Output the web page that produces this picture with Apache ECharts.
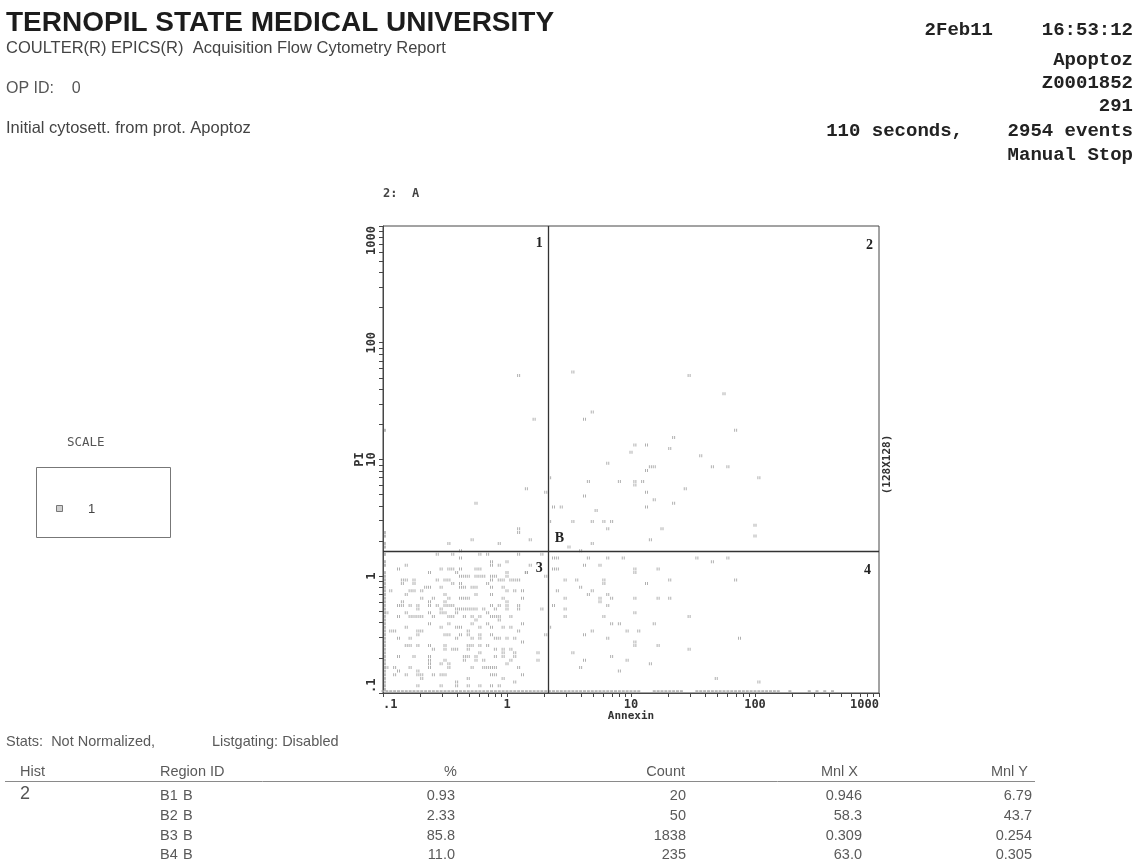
<!DOCTYPE html>
<html>
<head>
<meta charset="utf-8">
<title>Acquisition Flow Cytometry Report – Annexin / PI</title>
<script src="https://cdn.jsdelivr.net/npm/echarts@6/dist/echarts.min.js"></script>
<style>
  html, body { margin: 0; padding: 0; background: #ffffff; }
  #chart { width: 1139px; height: 865px; }
</style>
</head>
<body>
<div id="chart"></div>
<script>
// ---------------------------------------------------------------------------
// Histogram 2: Annexin (x) vs PI (y), 128 x 128 channels, 4 log decades
// (32 channels per decade, 0.1 ... 1000). Events are listed as [xCh, yCh].
// ---------------------------------------------------------------------------
const CHANNELS_PER_DECADE = 32;

// Quadrant cursor position (Annexin, PI)
const gateX = 2.17;
const gateY = 1.63;

// Axis decades and log tick marks
const decadeValues = [0.1, 1, 10, 100, 1000];
const decadeText = ['.1', '1', '10', '100', '1000'];
const tickValues = [
  0.1, 0.2, 0.3, 0.4, 0.5, 0.6, 0.7, 0.8, 0.9,
  1, 2, 3, 4, 5, 6, 7, 8, 9,
  10, 20, 30, 40, 50, 60, 70, 80, 90,
  100, 200, 300, 400, 500, 600, 700, 800, 900,
  1000
];

// B1: Annexin- / PI+
const regionB1 = [
  [35,87],[39,75],[37,56],[24,52],[23,42],[17,41],[30,41],[20,39],
  [35,44],[35,45],[38,42],[42,55]
];

// B2: Annexin+ / PI+
const regionB2 = [
  [49,88],[79,87],[88,82],[54,77],[52,75],[91,72],[75,70],[65,68],[68,68],[74,67],
  [64,66],[82,65],[58,63],[85,62],[89,62],[69,62],[70,62],[68,61],[97,59],[53,58],
  [61,58],[65,58],[65,57],[67,58],[43,59],[68,55],[78,56],[52,54],[70,53],[75,52],
  [68,51],[44,51],[46,51],[55,50],[43,47],[49,47],[54,47],[57,47],[59,47],[58,45],
  [72,45],[69,42],[96,43],[54,41],[48,40],[51,39],[96,46]
];

// B3: Annexin- / PI- (viable cells)
const regionB3 = [
  [14,38],[18,38],[20,37],[25,38],[27,38],[35,38],[41,38],
  [28,36],[30,35],[32,36],[38,35],
  [4,34],[12,33],[15,34],[17,34],[18,34],[20,34],[24,34],[32,33],[32,32],[37,33],
  [6,31],[8,31],[8,30],[14,31],[16,31],[17,31],[20,32],[21,32],[22,32],[24,32],[25,32],
  [26,32],[28,31],[30,31],[33,31],[35,31],[42,32],
  [2,28],[5,30],[8,28],[10,28],[12,29],[15,29],[18,30],[20,30],[21,29],[23,29],[24,29],
  [27,30],[28,29],[31,29],[34,28],[36,28],
  [6,27],[10,26],[13,26],[16,27],[17,26],[20,26],[22,26],[24,27],[28,27],[31,26],[32,25],
  [4,24],[7,24],[9,23],[12,25],[14,24],[16,24],[18,24],[20,23],[22,23],[24,23],[28,24],
  [30,24],[32,24],[35,24],[41,23],
  [4,21],[6,22],[8,21],[10,21],[12,22],[15,22],[17,21],[19,22],[21,21],[23,21],[25,21],
  [27,22],[29,21],[30,20],[33,21],[36,19],
  [3,17],[6,18],[9,17],[10,17],[12,19],[15,18],[17,19],[19,18],[20,18],[23,19],[25,18],
  [27,19],[28,18],[31,18],[33,18],[35,17],[42,16],
  [4,15],[7,15],[9,16],[16,16],[17,16],[19,15],[22,16],[23,15],[25,15],[28,16],[30,15],
  [32,15],[34,15],[36,14],
  [6,13],[9,13],[12,13],[13,12],[16,13],[18,12],[22,12],[23,13],[25,13],[27,13],[29,12],
  [31,12],[33,12],
  [4,10],[8,10],[12,10],[12,9],[16,9],[21,10],[22,10],[24,10],[26,9],[29,10],[31,10],
  [34,10],[40,9],
  [1,7],[3,7],[7,7],[12,8],[12,7],[15,8],[17,7],[23,7],[26,7],[28,7],[32,8],[35,7],
  [3,5],[6,5],[9,5],[10,4],[13,5],[16,5],[22,4],[28,5],[29,5],[31,4],[36,5],
  [9,2],[15,2],[19,2],[22,2],[25,2],[28,2],[30,2],
  [6,35],[19,33],[25,34],[28,35],[34,31],[37,33],[5,31],[28,32],[29,32],[31,31],
  [7,28],[11,29],[20,29],[32,28],[5,25],[16,25],[21,26],[36,26],[5,24],[9,24],[12,24],
  [15,23],[17,24],[19,23],[21,23],[23,23],[26,23],[29,23],[32,23],[35,23],[7,21],[9,21],
  [13,21],[16,22],[18,21],[24,20],[28,21],[30,21],[1,22],[2,17],[20,16],[22,17],[25,16],
  [29,15],[7,13],[16,12],[19,12],[22,13],[25,11],[31,11],[34,11],[40,11],[4,6],[9,6],
  [15,5],[17,8],[21,9],[24,9],[27,7],[29,7],[33,9],[10,5],[34,3],[19,3]
];

// B4: Annexin+ / PI- (early apoptosis)
const regionB4 = [
  [44,37],[45,37],[44,34],[53,37],[58,37],[62,37],[81,37],[85,36],[89,37],[52,35],
  [56,35],[65,34],[65,33],[71,34],[74,31],[91,31],[47,31],[50,31],[57,31],[57,30],
  [68,30],[45,28],[51,29],[54,28],[53,27],[56,26],[59,26],[58,27],[65,26],[71,26],
  [74,26],[47,26],[44,24],[47,23],[47,21],[56,25],[58,24],[65,22],[57,21],[79,21],
  [59,19],[61,19],[70,19],[63,17],[66,17],[52,16],[54,17],[58,15],[65,14],[65,13],
  [71,13],[92,15],[79,12],[49,11],[59,10],[52,9],[63,9],[69,8],[51,7],[61,6],
  [86,4],[97,3],[43,18],[45,34]
];

// Events piled up in the lowest PI channel (x channels)
const floorX = [
  0,1,2,3,4,5,6,7,8,9,10,11,12,13,14,15,16,17,18,19,20,21,22,23,24,25,26,27,28,29,
  30,31,32,33,34,35,36,37,38,39,40,41,42,43,44,45,46,47,48,49,50,51,52,53,54,55,56,
  57,58,59,60,61,62,63,64,65,66,70,71,72,73,74,75,76,77,81,82,83,84,85,86,87,88,89,
  90,91,92,93,94,95,96,97,98,99,100,101,102,105,110,112,114,116
];
// Events piled up in the lowest Annexin channel (y channels)
const wallY = [
  1,2,3,4,5,6,7,8,9,10,11,12,13,14,15,16,17,18,19,20,21,22,23,24,25,26,27,28,29,30,
  31,32,33,35,36,38,40,41,43,44,72
];
const EDGE_CHANNEL = 0.5;

// Region statistics
const regionNames = ['B1', 'B2', 'B3', 'B4'];
const regionGate = 'B';
const pctValues = ['0.93', '2.33', '85.8', '11.0'];
const countValues = ['20', '50', '1838', '235'];
const mnlXValues = ['0.946', '58.3', '0.309', '63.0'];
const mnlYValues = ['6.79', '43.7', '0.254', '0.305'];

// ---------------------------------------------------------------------------
const SANS = 'Liberation Sans';
const MONO = 'DejaVu Sans Mono';
const COURIER = 'Liberation Mono';
const SERIF = 'Liberation Serif';
const AXIS_COLOR = '#474747';
const DOT_COLOR = '#9c9c9c';

const toValue = ch => 0.1 * Math.pow(10, ch / CHANNELS_PER_DECADE);
const toPoints = list => list.map(([cx, cy]) => [toValue(cx), toValue(cy)]);
const decadeLabel = v => decadeText[Math.round(Math.log10(v)) + 1];

const DOT = 'path://M0,0H1V3H0Z M2,0H3V3H2Z';

function regionSeries(name, list) {
  return {
    name, type: 'scatter', data: toPoints(list),
    symbol: DOT, symbolSize: [3, 3], silent: true,
    itemStyle: { color: DOT_COLOR }, z: 2
  };
}

const chart = echarts.init(document.getElementById('chart'), null, { renderer: 'canvas' });

const axisCommon = {
  type: 'log', logBase: 10, min: 0.1, max: 1000,
  nameLocation: 'middle', nameMoveOverlap: false,
  nameTextStyle: { fontFamily: MONO, fontWeight: 'bold', fontSize: 11, color: '#333' },
  axisLine: { show: true, onZero: false, lineStyle: { color: AXIS_COLOR, width: 1 } },
  axisTick: { show: true, inside: false, length: 4, customValues: tickValues,
              lineStyle: { color: AXIS_COLOR, width: 1 } },
  minorTick: { show: false },
  splitLine: { show: false }
};

chart.setOption({
  animation: false,
  backgroundColor: '#ffffff',
  grid: { left: 383, top: 226, width: 496, height: 467, show: true,
          borderColor: AXIS_COLOR, borderWidth: 1, backgroundColor: 'transparent' },
  xAxis: Object.assign({}, axisCommon, {
    name: 'Annexin', nameGap: 18,
    axisLabel: { customValues: decadeValues, formatter: decadeLabel, margin: 6,
                 fontFamily: MONO, fontWeight: 'bold', fontSize: 12, color: '#333',
                 alignMinLabel: 'left', alignMaxLabel: 'right' }
  }),
  yAxis: Object.assign({}, axisCommon, {
    name: 'PI', nameGap: 17, nameRotate: 90,
    nameTextStyle: { fontFamily: MONO, fontWeight: 'bold', fontSize: 12, color: '#333' },
    axisLabel: { customValues: decadeValues, formatter: decadeLabel, margin: 5, rotate: 90,
                 fontFamily: MONO, fontWeight: 'bold', fontSize: 12, color: '#333',
                 alignMinLabel: 'left', alignMaxLabel: 'right' }
  }),
  series: [
    regionSeries('B1', regionB1),
    regionSeries('B2', regionB2),
    regionSeries('B3', regionB3),
    regionSeries('B4', regionB4),
    {
      name: 'floor', type: 'scatter', silent: true, z: 2,
      data: floorX.map(cx => [toValue(cx), toValue(EDGE_CHANNEL)]),
      symbol: 'rect', symbolSize: [3, 2], itemStyle: { color: '#a6a6a6' },
      markLine: {
        silent: true, animation: false, symbol: ['none', 'none'],
        label: { show: false },
        lineStyle: { color: '#333', width: 1.3, type: 'solid' },
        data: [{ xAxis: gateX }, { yAxis: gateY }]
      }
    },
    {
      name: 'wall', type: 'scatter', silent: true, z: 2,
      data: wallY.map(cy => [toValue(EDGE_CHANNEL), toValue(cy)]),
      symbol: 'rect', symbolSize: [2, 3], itemStyle: { color: '#a6a6a6' }
    }
  ]
});

// Pixel anchors taken from the grid's own scales
const [gx, gy] = chart.convertToPixel({ gridIndex: 0 }, [gateX, gateY]);
const [plotLeft, plotTop] = chart.convertToPixel({ gridIndex: 0 }, [0.1, 1000]);
const [plotRight, plotBottom] = chart.convertToPixel({ gridIndex: 0 }, [1000, 0.1]);

function txt(text, x, y, o) {
  o = o || {};
  return {
    type: 'text', x, y, rotation: o.rotation || 0, silent: true, z: 10,
    style: {
      text, fill: o.color || '#555',
      fontFamily: o.family || SANS, fontSize: o.size || 14,
      fontWeight: o.weight || 'normal',
      align: o.align || 'left', verticalAlign: o.valign || 'middle'
    }
  };
}

const graphics = [];

// Report header (left)
graphics.push(txt('TERNOPIL STATE MEDICAL UNIVERSITY', 6, 23, { size: 28, weight: 'bold', color: '#1c1c1c' }));
graphics.push(txt('COULTER(R) EPICS(R)  Acquisition Flow Cytometry Report', 6, 48, { size: 16.5, color: '#444' }));
graphics.push(txt('OP ID:    0', 6, 89, { size: 16, color: '#555' }));
graphics.push(txt('Initial cytosett. from prot. Apoptoz', 6, 128, { size: 16.5, color: '#444' }));

// Report header (right)
const rHead = { family: COURIER, weight: 'bold', size: 19, color: '#222', align: 'right' };
graphics.push(txt('2Feb11', 993, 30, rHead));
graphics.push(txt('16:53:12', 1133, 30, rHead));
graphics.push(txt('Apoptoz', 1133, 60, rHead));
graphics.push(txt('Z0001852', 1133, 83, rHead));
graphics.push(txt('291', 1133, 106, rHead));
graphics.push(txt('110 seconds,', 963, 131, rHead));
graphics.push(txt('2954 events', 1133, 131, rHead));
graphics.push(txt('Manual Stop', 1133, 155, rHead));

// Plot caption and resolution tag
graphics.push(txt('2:  A', plotLeft, 194, { family: MONO, weight: 'bold', size: 12, color: '#444' }));
graphics.push(txt('(128X128)', plotRight + 8, (plotTop + plotBottom) / 2 + 5,
  { family: MONO, weight: 'bold', size: 11, color: '#333', align: 'center', rotation: Math.PI / 2 }));

// Quadrant labels
const qStyle = { family: SERIF, weight: 'bold', size: 14, color: '#222' };
graphics.push(txt('1', gx - 6, plotTop + 17, Object.assign({ align: 'right' }, qStyle)));
graphics.push(txt('2', plotRight - 6, plotTop + 19, Object.assign({ align: 'right' }, qStyle)));
graphics.push(txt('3', gx - 6, gy + 17, Object.assign({ align: 'right' }, qStyle)));
graphics.push(txt('4', plotRight - 8, gy + 19, Object.assign({ align: 'right' }, qStyle)));
graphics.push(txt('B', gx + 6, gy - 13, Object.assign({ align: 'left' }, qStyle)));

// Colour scale box
graphics.push(txt('SCALE', 67, 443, { family: MONO, size: 12.5, color: '#555' }));
graphics.push({ type: 'rect', silent: true, shape: { x: 36.5, y: 467.5, width: 134, height: 70 },
  style: { fill: 'none', stroke: '#777', lineWidth: 1 } });
graphics.push({ type: 'rect', silent: true, shape: { x: 56.5, y: 505.5, width: 6, height: 6 },
  style: { fill: '#d0d0d0', stroke: '#777', lineWidth: 1 } });
graphics.push(txt('1', 88, 509, { size: 13, color: '#444' }));

// Statistics table
const tStyle = { size: 14.5, color: '#5a5a5a' };
graphics.push(txt('Stats:  Not Normalized,', 6, 742, tStyle));
graphics.push(txt('Listgating: Disabled', 212, 742, tStyle));
graphics.push(txt('Hist', 20, 772, tStyle));
graphics.push(txt('Region ID', 160, 772, tStyle));
graphics.push(txt('%', 457, 772, Object.assign({ align: 'right' }, tStyle)));
graphics.push(txt('Count', 685, 772, Object.assign({ align: 'right' }, tStyle)));
graphics.push(txt('Mnl X', 858, 772, Object.assign({ align: 'right' }, tStyle)));
graphics.push(txt('Mnl Y', 1028, 772, Object.assign({ align: 'right' }, tStyle)));
graphics.push({ type: 'line', silent: true, shape: { x1: 5, y1: 781.5, x2: 1035, y2: 781.5 },
  style: { stroke: '#8a8a8a', lineWidth: 1 } });
graphics.push(txt('2', 20, 794, { size: 18, color: '#555' }));

const rowY = [796, 816, 836, 855];
regionNames.forEach((name, i) => {
  const y = rowY[i];
  graphics.push(txt(name, 160, y, tStyle));
  graphics.push(txt(regionGate, 183, y, tStyle));
  graphics.push(txt(pctValues[i], 455, y, Object.assign({ align: 'right' }, tStyle)));
  graphics.push(txt(countValues[i], 686, y, Object.assign({ align: 'right' }, tStyle)));
  graphics.push(txt(mnlXValues[i], 862, y, Object.assign({ align: 'right' }, tStyle)));
  graphics.push(txt(mnlYValues[i], 1032, y, Object.assign({ align: 'right' }, tStyle)));
});

chart.setOption({ graphic: { elements: graphics } });
</script>
</body>
</html>
